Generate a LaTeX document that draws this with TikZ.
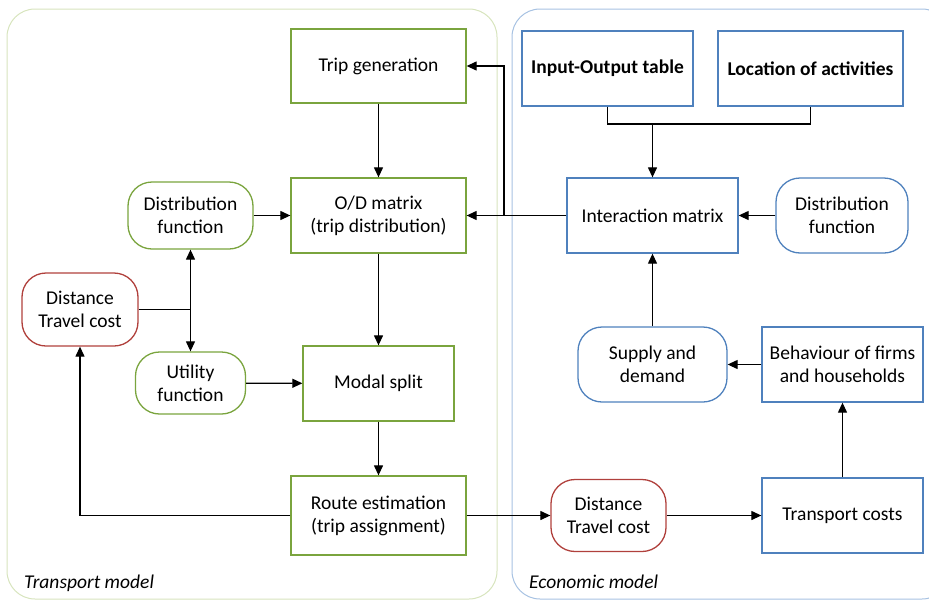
\documentclass[tikz,border=0pt]{standalone}
\usepackage{fontspec}
\setmainfont{Carlito}
\usetikzlibrary{arrows.meta}
\definecolor{boxgreen}{RGB}{122,164,62}
\definecolor{boxblue}{RGB}{79,129,189}
\definecolor{boxred}{RGB}{176,64,60}
\definecolor{panelgreen}{RGB}{215,228,189}
\definecolor{panelblue}{RGB}{167,194,226}
\tikzset{
  txt/.style={font=\fontsize{19.5}{23}\selectfont, align=center, inner sep=0pt},
  gbox/.style={txt, draw=boxgreen, line width=1.3pt},
  bbox/.style={txt, draw=boxblue, line width=1.3pt},
  gpill/.style={gbox, rounded corners=24pt},
  bpill/.style={bbox, rounded corners=24pt},
  rpill/.style={txt, draw=boxred, line width=1.3pt, rounded corners=24pt},
  panel/.style={line width=1pt, rounded corners=28pt},
  link/.style={draw=black, line width=1.2pt, -{Triangle[length=10pt,width=9pt]}},
  plain/.style={draw=black, line width=1.2pt},
  paneltitle/.style={font=\fontsize{19.5}{23}\selectfont\itshape, anchor=base west, inner sep=0pt}
}
\begin{document}
\begin{tikzpicture}[x=1pt,y=-1pt]
\useasboundingbox (0,0) rectangle (929,600);
\clip (0,0) rectangle (929,600);

% model panels
\draw[panel, draw=panelgreen] (7,9) rectangle (497,599);
\draw[panel, draw=panelblue] (512,9) rectangle (950,599);
\node[paneltitle] (tmodel) at (24,588) {Transport model};
\node[paneltitle] (emodel) at (529,588) {Economic model};

% transport model
\node[gbox, minimum width=175pt, minimum height=74pt] (tg) at (378.5,66) {Trip generation};
\node[gbox, minimum width=175pt, minimum height=75pt] (od) at (378.5,215.5) {O/D matrix\\(trip distribution)};
\node[gbox, minimum width=151pt, minimum height=75pt] (ms) at (378.5,383.5) {Modal split};
\node[gbox, minimum width=175pt, minimum height=79pt] (re) at (378.5,515.5) {Route estimation\\(trip assignment)};
\node[gpill, minimum width=125pt, minimum height=67pt] (dfl) at (190.5,215.5) {Distribution\\function};
\node[gpill, minimum width=110pt, minimum height=62pt] (ut) at (190.5,383) {Utility\\function};
\node[rpill, minimum width=116pt, minimum height=73pt] (dcl) at (80,309.5) {Distance\\Travel cost};

% economic model
\node[bbox, minimum width=171pt, minimum height=75pt] (io) at (607.5,68.5) {\bfseries Input-Output table};
\node[bbox, minimum width=185pt, minimum height=75pt] (loc) at (810.5,68.5) {\bfseries Location of activities};
\node[bbox, minimum width=171pt, minimum height=75pt] (im) at (652.5,215.5) {Interaction matrix};
\node[bpill, minimum width=132pt, minimum height=75pt] (dfr) at (842,215.5) {Distribution\\function};
\node[bpill, minimum width=149pt, minimum height=75pt] (sd) at (652.5,364.5) {Supply and\\demand};
\node[bbox, minimum width=161pt, minimum height=75pt] (bh) at (842.5,364.5) {Behaviour of firms\\and households};
\node[bbox, minimum width=161pt, minimum height=75pt] (tc) at (842.5,515.5) {Transport costs};
\node[rpill, minimum width=115pt, minimum height=72pt] (dcr) at (608.5,515.5) {Distance\\Travel cost};

% junction points
\coordinate (br) at (504,215.5);
\coordinate (jt) at (652.5,124);
\coordinate (jl) at (190.5,309.5);

% transport chain
\draw[link] (tg) -- (od);
\draw[link] (od) -- (ms);
\draw[link] (ms) -- (re);
\draw[link] (dfl) -- (od);
\draw[link] (ut) -- (ms);
\draw[plain] (dcl.east) -- (jl);
\draw[link] (jl) -- (dfl.south);
\draw[link] (jl) -- (ut.north);
\draw[link] (re.west) -| (dcl.south);
\draw[link] (re.east) -- (dcr.west);

% economic chain
\draw[plain] (io.south) |- (jt) -| (loc.south);
\draw[link] (jt) -- (im.north);
\draw[link] (dfr) -- (im);
\draw[link] (im.west) -- (od.east);
\draw[link] (br) |- (tg.east);
\draw[link] (sd.north) -- (im.south);
\draw[link] (bh.west) -- (sd.east);
\draw[link] (tc.north) -- (bh.south);
\draw[link] (dcr.east) -- (tc.west);
\end{tikzpicture}
\end{document}
